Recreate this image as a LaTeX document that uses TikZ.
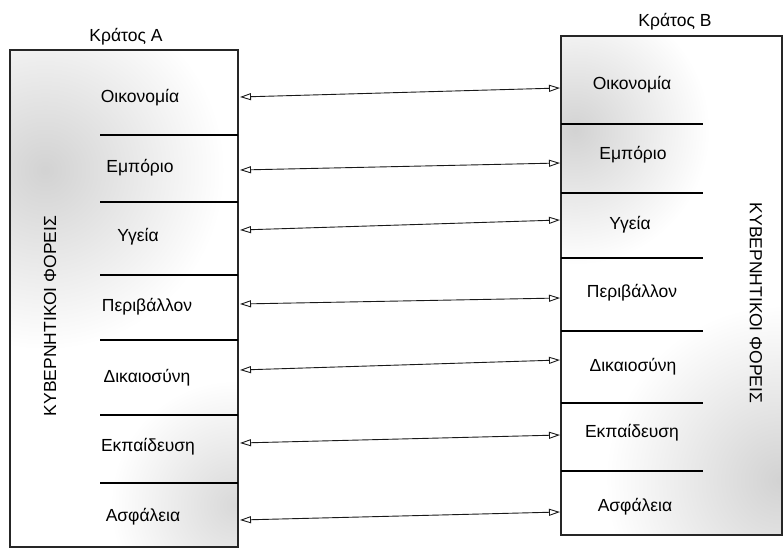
\documentclass[tikz,border=0pt]{standalone}
\usepackage{fontspec}
\setmainfont{Liberation Sans}
\usetikzlibrary{arrows.meta}
\begin{document}
\begin{tikzpicture}[x=1pt,y=-1pt,
  lbl/.style={font=\fontsize{17.5}{20}\selectfont, inner sep=0pt},
  ttl/.style={font=\fontsize{17.5}{20}\selectfont, inner sep=0pt},
  vert/.style={font=\fontsize{17.5}{20}\selectfont, inner sep=0pt},
  frame/.style={draw=black!85, line width=2pt},
  divider/.style={draw=black, line width=1.3pt},
  biarrow/.style={draw=black!90, line width=0.9pt,
     {Triangle[open,length=11pt,width=7pt]}-{Triangle[open,length=11pt,width=7pt]}}]
\useasboundingbox (0,0) rectangle (784,550);
% shading
\begin{scope}
  \clip (10,50) rectangle (238,547);
  \shade[inner color=gray!35, outer color=white] (45,170) circle (180);
  \shade[inner color=gray!30, outer color=white] (235,505) circle (125);
\end{scope}
\begin{scope}
  \clip (561,36) rectangle (782,535);
  \shade[inner color=gray!35, outer color=white] (575,130) circle (135);
  \shade[inner color=gray!35, outer color=white] (780,480) circle (175);
\end{scope}
% frames
\draw[frame] (10,50) rectangle (238,547);
\draw[frame] (561,36) rectangle (782,535);
% dividers left
\foreach \y in {135,202,275,340,415,483} \draw[divider] (100,\y) -- (238,\y);
% dividers right
\foreach \y in {124,193,258,331,403,471} \draw[divider] (561,\y) -- (703,\y);
% titles
\node[ttl] (tA) at (126,37) {Κράτος A};
\node[ttl] (tB) at (675,22) {Κράτος B};
% vertical texts
\node[vert, rotate=90] (vA) at (50,316) {ΚΥΒΕΡΝΗΤΙΚΟΙ ΦΟΡΕΙΣ};
\node[vert, rotate=-90] (vB) at (756,303) {ΚΥΒΕΡΝΗΤΙΚΟΙ ΦΟΡΕΙΣ};
% left labels
\node[lbl] (a1) at (140,98) {Οικονομία};
\node[lbl] (a2) at (140,168) {Εμπόριο};
\node[lbl] (a3) at (138,237) {Υγεία};
\node[lbl] (a4) at (147,307) {Περιβάλλον};
\node[lbl] (a5) at (147,378) {Δικαιοσύνη};
\node[lbl] (a6) at (148,447) {Εκπαίδευση};
\node[lbl] (a7) at (143,517) {Ασφάλεια};
% right labels
\node[lbl] (b1) at (632,85) {Οικονομία};
\node[lbl] (b2) at (633,155) {Εμπόριο};
\node[lbl] (b3) at (630,225) {Υγεία};
\node[lbl] (b4) at (632,293) {Περιβάλλον};
\node[lbl] (b5) at (633,367) {Δικαιοσύνη};
\node[lbl] (b6) at (632,433) {Εκπαίδευση};
\node[lbl] (b7) at (635,507) {Ασφάλεια};
% arrow end points on the box edges
\coordinate (aE1) at (240,97);  \coordinate (bW1) at (560,88);
\coordinate (aE2) at (240,170); \coordinate (bW2) at (560,163);
\coordinate (aE3) at (240,230); \coordinate (bW3) at (560,220);
\coordinate (aE4) at (240,304); \coordinate (bW4) at (560,298);
\coordinate (aE5) at (240,370); \coordinate (bW5) at (560,360);
\coordinate (aE6) at (240,443); \coordinate (bW6) at (560,435);
\coordinate (aE7) at (240,520); \coordinate (bW7) at (560,512);
\foreach \i in {1,...,7} \draw[biarrow] (aE\i) -- (bW\i);
\end{tikzpicture}
\end{document}
